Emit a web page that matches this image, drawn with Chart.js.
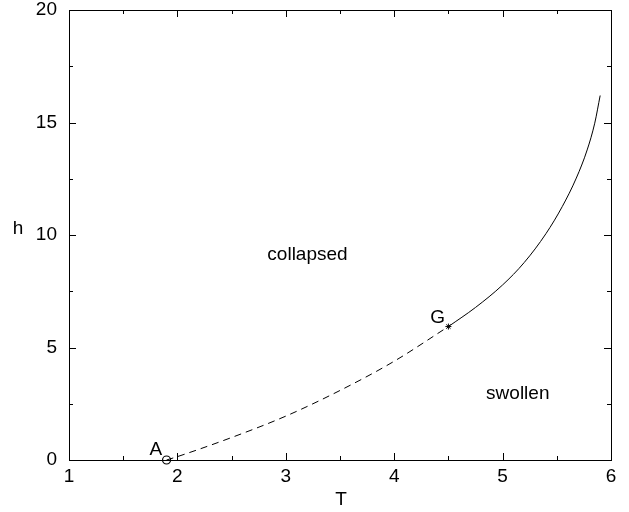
<!DOCTYPE html>
<html>
<head>
<meta charset="utf-8">
<script src="https://cdn.jsdelivr.net/npm/chart.js@4/dist/chart.umd.min.js"></script>
<style>
html,body{margin:0;padding:0;background:#fff;}
canvas{display:block;}
</style>
</head>
<body>
<canvas id="c" width="629" height="512"></canvas>
<script>
// Metastable (dashed) branch from A to G
const dashT = [1.9, 2.0, 2.5, 3.0, 3.5, 4.0, 4.5];
const dashH = [0.0, 0.15, 1.0, 1.95, 3.09, 4.39, 5.93];
// Stable (solid) branch from G upward
const solidT = [4.5, 4.75, 5.0, 5.2, 5.4, 5.55, 5.68, 5.78, 5.85, 5.9];
const solidH = [5.93, 6.78, 7.78, 8.78, 10.06, 11.26, 12.53, 13.78, 14.97, 16.2];
// Special points
const pointA = {T: 1.9, h: 0.0};
const pointG = {T: 4.5, h: 5.93};
// Axis ticks
const xTicks = [1, 2, 3, 4, 5, 6];
const yTicks = [0, 5, 10, 15, 20];
// Text annotations (data coordinates)
const annTexts = ['A', 'G', 'collapsed', 'swollen'];
const annT = [1.80, 4.40, 3.20, 5.14];
const annH = [0.45, 6.33, 9.13, 2.94];

const FAMILY = '"Liberation Sans", Arial, sans-serif';
const FONT = '19px ' + FAMILY;

const framePlugin = {
  id: 'frame',
  afterDraw(chart) {
    const {ctx, chartArea: a, scales: {x, y}} = chart;
    ctx.save();
    ctx.strokeStyle = '#000';
    ctx.lineWidth = 1;
    ctx.strokeRect(a.left + 0.5, a.top + 0.5, a.right - a.left, a.bottom - a.top);
    ctx.beginPath();
    for (let v = 1; v <= 6.001; v += 0.5) {
      const px = Math.round(x.getPixelForValue(v)) + 0.5;
      const len = (Math.abs(v - Math.round(v)) < 1e-6) ? 7 : 4;
      ctx.moveTo(px, a.bottom); ctx.lineTo(px, a.bottom - len);
      ctx.moveTo(px, a.top); ctx.lineTo(px, a.top + len);
    }
    for (let v = 0; v <= 20.001; v += 2.5) {
      const py = Math.round(y.getPixelForValue(v)) + 0.5;
      const len = (Math.abs(v / 5 - Math.round(v / 5)) < 1e-6) ? 7 : 4;
      ctx.moveTo(a.left, py); ctx.lineTo(a.left + len, py);
      ctx.moveTo(a.right, py); ctx.lineTo(a.right - len, py);
    }
    ctx.stroke();
    ctx.fillStyle = '#000';
    ctx.font = FONT;
    ctx.textAlign = 'center';
    ctx.textBaseline = 'middle';
    for (let i = 0; i < annTexts.length; i++) {
      ctx.fillText(annTexts[i], x.getPixelForValue(annT[i]), y.getPixelForValue(annH[i]));
    }
    ctx.fillText('h', 18, 229);
    ctx.fillText('T', 341, 500);
    ctx.restore();
  }
};

new Chart(document.getElementById('c'), {
  type: 'scatter',
  data: {
    datasets: [
      {
        data: dashT.map((t, i) => ({x: t, y: dashH[i]})),
        showLine: true,
        borderColor: '#000',
        borderWidth: 1,
        borderDash: [7, 5],
        pointRadius: 0,
        cubicInterpolationMode: 'monotone',
        fill: false
      },
      {
        data: solidT.map((t, i) => ({x: t, y: solidH[i]})),
        showLine: true,
        borderColor: '#000',
        borderWidth: 1,
        pointRadius: 0,
        cubicInterpolationMode: 'monotone',
        fill: false
      },
      {
        data: [{x: pointA.T, y: pointA.h}],
        pointStyle: 'circle',
        pointRadius: 4,
        borderColor: '#000',
        borderWidth: 1.2,
        backgroundColor: 'rgba(0,0,0,0)',
        showLine: false
      },
      {
        data: [{x: pointG.T, y: pointG.h}],
        pointStyle: 'star',
        pointRadius: 3,
        borderColor: '#000',
        borderWidth: 1,
        showLine: false
      }
    ]
  },
  options: {
    responsive: false,
    animation: false,
    events: [],
    clip: false,
    layout: {padding: {left: 0, top: 10, right: 18, bottom: 0}},
    plugins: {legend: {display: false}, tooltip: {enabled: false}},
    scales: {
      x: {
        type: 'linear',
        min: 1, max: 6,
        afterFit(s) { s.height = 52; s.paddingLeft = 0; s.paddingRight = 0; },
        afterBuildTicks(s) { s.ticks = xTicks.map(v => ({value: v})); },
        grid: {display: false, drawTicks: false},
        border: {display: false},
        ticks: {color: '#000', font: {family: FAMILY, size: 19}, padding: 5, maxRotation: 0}
      },
      y: {
        type: 'linear',
        min: 0, max: 20,
        afterFit(s) { s.width = 69; s.paddingTop = 0; s.paddingBottom = 0; },
        afterBuildTicks(s) { s.ticks = yTicks.map(v => ({value: v})); },
        grid: {display: false, drawTicks: false},
        border: {display: false},
        ticks: {color: '#000', font: {family: FAMILY, size: 19}, padding: 12}
      }
    }
  },
  plugins: [framePlugin]
});
</script>
</body>
</html>
